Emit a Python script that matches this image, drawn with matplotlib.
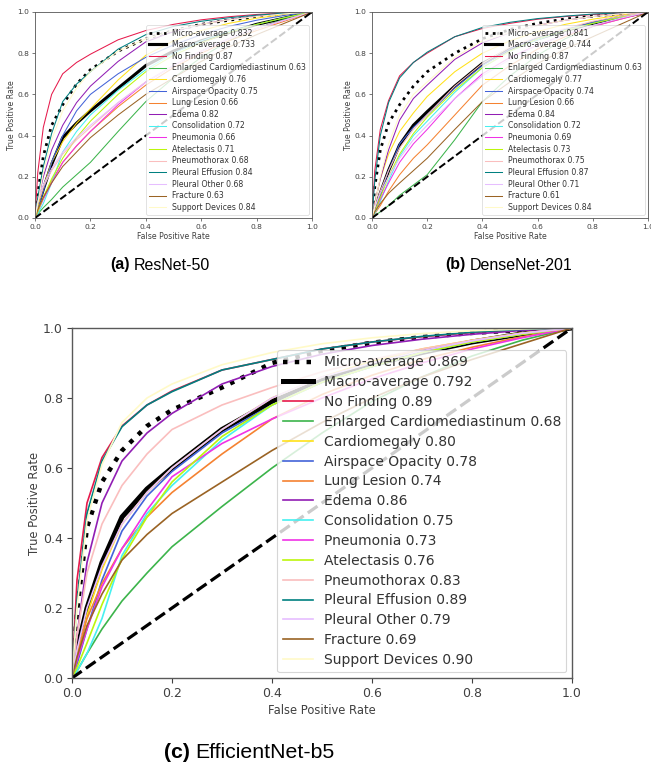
import matplotlib
matplotlib.use("Agg")
import matplotlib.pyplot as plt

# ---------------- data ----------------
fpr_grid = [0, 0.01, 0.03, 0.06, 0.1, 0.15, 0.2, 0.3, 0.4, 0.5, 0.6, 0.7, 0.8, 0.9, 1.0]

classes = ["No Finding", "Enlarged Cardiomediastinum", "Cardiomegaly", "Airspace Opacity",
           "Lung Lesion", "Edema", "Consolidation", "Pneumonia", "Atelectasis",
           "Pneumothorax", "Pleural Effusion", "Pleural Other", "Fracture", "Support Devices"]

class_colors = ["#e6194b", "#3cb44b", "#ffe119", "#4363d8", "#f58231", "#911eb4", "#46f0f0",
                "#f032e6", "#bcf60c", "#fabebe", "#008080", "#e6beff", "#9a6324", "#fffac8"]

# ResNet-50
resnet_micro_auc = "0.832"
resnet_macro_auc = "0.733"
resnet_auc = ["0.87", "0.63", "0.76", "0.75", "0.66", "0.82", "0.72", "0.66", "0.71", "0.68",
              "0.84", "0.68", "0.63", "0.84"]
resnet_micro = [0, 0.12, 0.30, 0.45, 0.55, 0.65, 0.72, 0.81, 0.87, 0.91, 0.94, 0.96, 0.977, 0.99, 1]
resnet_macro = [0, 0.05, 0.14, 0.26, 0.39, 0.46, 0.52, 0.63, 0.74, 0.81, 0.86, 0.90, 0.94, 0.97, 1]
resnet_tpr = [
    [0, 0.22, 0.44, 0.60, 0.70, 0.755, 0.795, 0.865, 0.91, 0.94, 0.962, 0.977, 0.988, 0.995, 1],
    [0, 0.02, 0.05, 0.09, 0.15, 0.21, 0.27, 0.42, 0.565, 0.68, 0.78, 0.86, 0.92, 0.965, 1],
    [0, 0.05, 0.15, 0.27, 0.37, 0.46, 0.53, 0.67, 0.79, 0.86, 0.91, 0.945, 0.97, 0.988, 1],
    [0, 0.04, 0.13, 0.27, 0.40, 0.52, 0.60, 0.70, 0.78, 0.84, 0.89, 0.93, 0.96, 0.983, 1],
    [0, 0.04, 0.10, 0.18, 0.27, 0.35, 0.42, 0.54, 0.645, 0.73, 0.80, 0.86, 0.91, 0.955, 1],
    [0, 0.08, 0.20, 0.33, 0.45, 0.56, 0.64, 0.76, 0.855, 0.905, 0.94, 0.963, 0.98, 0.992, 1],
    [0, 0.02, 0.07, 0.17, 0.32, 0.42, 0.50, 0.62, 0.72, 0.80, 0.86, 0.905, 0.94, 0.972, 1],
    [0, 0.03, 0.09, 0.17, 0.27, 0.35, 0.42, 0.55, 0.66, 0.74, 0.81, 0.87, 0.92, 0.96, 1],
    [0, 0.03, 0.10, 0.19, 0.29, 0.39, 0.47, 0.60, 0.71, 0.79, 0.85, 0.90, 0.94, 0.972, 1],
    [0, 0.07, 0.15, 0.23, 0.31, 0.38, 0.44, 0.56, 0.66, 0.74, 0.81, 0.87, 0.92, 0.96, 1],
    [0, 0.10, 0.25, 0.41, 0.565, 0.65, 0.71, 0.82, 0.89, 0.93, 0.955, 0.972, 0.985, 0.994, 1],
    [0, 0.08, 0.16, 0.24, 0.32, 0.39, 0.45, 0.56, 0.66, 0.74, 0.81, 0.87, 0.92, 0.96, 1],
    [0, 0.04, 0.10, 0.17, 0.25, 0.32, 0.39, 0.50, 0.60, 0.68, 0.76, 0.83, 0.89, 0.945, 1],
    [0, 0.07, 0.22, 0.38, 0.52, 0.63, 0.71, 0.81, 0.87, 0.91, 0.94, 0.962, 0.978, 0.991, 1],
]

# DenseNet-201
densenet_micro_auc = "0.841"
densenet_macro_auc = "0.744"
densenet_auc = ["0.87", "0.63", "0.77", "0.74", "0.66", "0.84", "0.72", "0.69", "0.73", "0.75",
                "0.87", "0.71", "0.61", "0.84"]
densenet_micro = [0, 0.15, 0.33, 0.46, 0.55, 0.64, 0.71, 0.80, 0.87, 0.915, 0.945, 0.966, 0.98, 0.992, 1]
densenet_macro = [0, 0.04, 0.12, 0.23, 0.355, 0.45, 0.516, 0.64, 0.75, 0.82, 0.87, 0.91, 0.945, 0.975, 1]
densenet_tpr = [
    [0, 0.23, 0.43, 0.57, 0.69, 0.755, 0.80, 0.88, 0.92, 0.945, 0.965, 0.978, 0.988, 0.995, 1],
    [0, 0.01, 0.03, 0.06, 0.11, 0.16, 0.21, 0.38, 0.565, 0.69, 0.79, 0.87, 0.93, 0.97, 1],
    [0, 0.07, 0.19, 0.31, 0.42, 0.51, 0.59, 0.71, 0.80, 0.86, 0.905, 0.94, 0.965, 0.985, 1],
    [0, 0.03, 0.11, 0.23, 0.36, 0.44, 0.50, 0.63, 0.74, 0.82, 0.875, 0.915, 0.95, 0.978, 1],
    [0, 0.02, 0.06, 0.13, 0.21, 0.29, 0.355, 0.50, 0.645, 0.74, 0.82, 0.88, 0.93, 0.965, 1],
    [0, 0.07, 0.19, 0.33, 0.475, 0.58, 0.645, 0.77, 0.85, 0.90, 0.935, 0.96, 0.978, 0.991, 1],
    [0, 0.02, 0.08, 0.18, 0.30, 0.40, 0.47, 0.61, 0.73, 0.81, 0.865, 0.91, 0.945, 0.975, 1],
    [0, 0.03, 0.09, 0.17, 0.27, 0.36, 0.43, 0.58, 0.70, 0.78, 0.84, 0.89, 0.93, 0.965, 1],
    [0, 0.03, 0.10, 0.20, 0.31, 0.41, 0.49, 0.62, 0.73, 0.81, 0.87, 0.91, 0.945, 0.975, 1],
    [0, 0.05, 0.13, 0.23, 0.34, 0.43, 0.50, 0.64, 0.75, 0.83, 0.88, 0.92, 0.955, 0.98, 1],
    [0, 0.18, 0.40, 0.56, 0.68, 0.755, 0.805, 0.88, 0.925, 0.95, 0.968, 0.98, 0.99, 0.996, 1],
    [0, 0.05, 0.12, 0.20, 0.29, 0.38, 0.45, 0.58, 0.69, 0.77, 0.84, 0.89, 0.935, 0.97, 1],
    [0, 0.03, 0.07, 0.12, 0.17, 0.23, 0.29, 0.43, 0.565, 0.66, 0.75, 0.82, 0.88, 0.94, 1],
    [0, 0.06, 0.20, 0.36, 0.50, 0.60, 0.66, 0.78, 0.86, 0.90, 0.935, 0.96, 0.978, 0.991, 1],
]

# EfficientNet-b5
effnet_micro_auc = "0.869"
effnet_macro_auc = "0.792"
effnet_auc = ["0.89", "0.68", "0.80", "0.78", "0.74", "0.86", "0.75", "0.73", "0.76", "0.83",
              "0.89", "0.79", "0.69", "0.90"]
effnet_micro = [0, 0.19, 0.43, 0.56, 0.65, 0.72, 0.766, 0.83, 0.90, 0.935, 0.958, 0.974, 0.986, 0.994, 1]
effnet_macro = [0, 0.08, 0.20, 0.33, 0.46, 0.54, 0.60, 0.71, 0.79, 0.85, 0.895, 0.93, 0.96, 0.983, 1]
effnet_tpr = [
    [0, 0.28, 0.50, 0.63, 0.72, 0.78, 0.82, 0.88, 0.91, 0.94, 0.96, 0.975, 0.987, 0.995, 1],
    [0, 0.02, 0.07, 0.14, 0.22, 0.30, 0.375, 0.49, 0.60, 0.70, 0.79, 0.86, 0.92, 0.965, 1],
    [0, 0.06, 0.18, 0.31, 0.44, 0.53, 0.60, 0.71, 0.80, 0.86, 0.905, 0.94, 0.965, 0.986, 1],
    [0, 0.04, 0.14, 0.28, 0.42, 0.52, 0.59, 0.70, 0.78, 0.845, 0.89, 0.93, 0.96, 0.983, 1],
    [0, 0.07, 0.17, 0.27, 0.37, 0.46, 0.53, 0.64, 0.74, 0.81, 0.865, 0.91, 0.945, 0.975, 1],
    [0, 0.12, 0.33, 0.50, 0.62, 0.70, 0.756, 0.84, 0.89, 0.925, 0.95, 0.968, 0.982, 0.993, 1],
    [0, 0.02, 0.07, 0.17, 0.35, 0.47, 0.55, 0.68, 0.78, 0.845, 0.89, 0.93, 0.96, 0.982, 1],
    [0, 0.05, 0.14, 0.26, 0.37, 0.48, 0.575, 0.67, 0.74, 0.80, 0.855, 0.90, 0.94, 0.972, 1],
    [0, 0.03, 0.10, 0.21, 0.34, 0.46, 0.56, 0.69, 0.78, 0.845, 0.89, 0.93, 0.96, 0.982, 1],
    [0, 0.12, 0.30, 0.44, 0.55, 0.64, 0.71, 0.78, 0.83, 0.875, 0.91, 0.94, 0.965, 0.985, 1],
    [0, 0.22, 0.47, 0.62, 0.718, 0.78, 0.818, 0.88, 0.91, 0.94, 0.96, 0.976, 0.988, 0.996, 1],
    [0, 0.08, 0.20, 0.32, 0.44, 0.53, 0.60, 0.71, 0.80, 0.86, 0.90, 0.935, 0.963, 0.985, 1],
    [0, 0.06, 0.15, 0.24, 0.337, 0.41, 0.47, 0.56, 0.65, 0.73, 0.80, 0.86, 0.91, 0.955, 1],
    [0, 0.20, 0.45, 0.61, 0.73, 0.80, 0.84, 0.895, 0.93, 0.955, 0.972, 0.984, 0.992, 0.997, 1],
]

tick_values = [0.0, 0.2, 0.4, 0.6, 0.8, 1.0]
captions = [("(a)", "ResNet-50"), ("(b)", "DenseNet-201"), ("(c)", "EfficientNet-b5")]

# ---------------- drawing ----------------
W, H = 651, 775
fig = plt.figure(figsize=(W / 100, H / 100), dpi=100)


def px_axes(left, top, right, bottom):
    return fig.add_axes([left / W, 1 - bottom / H, (right - left) / W, (bottom - top) / H])


def draw_panel(ax, micro, micro_auc, macro, macro_auc, tprs, aucs,
               s, tickfs, labfs, legfs, ylpad, lspace):
    ax.plot(fpr_grid, micro, color="black", linestyle=":", lw=3.2 * s,
            label="Micro-average " + micro_auc)
    ax.plot(fpr_grid, macro, color="black", linestyle="-", lw=3.6 * s,
            label="Macro-average " + macro_auc)
    for name, col, tpr, auc in zip(classes, class_colors, tprs, aucs):
        ax.plot(fpr_grid, tpr, color=col, lw=1.2 * s, label=f"{name} {auc}")
    ax.plot([0, 1], [0, 1], color="black", linestyle="--", lw=2.3 * s)
    ax.set_xlim(0, 1)
    ax.set_ylim(0, 1)
    ax.set_xticks(tick_values)
    ax.set_yticks(tick_values)
    ax.tick_params(labelsize=tickfs, length=3.5 * s, width=0.8 * s, colors="0.25",
                   pad=3.0 * s)
    for sp in ax.spines.values():
        sp.set_color("0.35")
        sp.set_linewidth(1.0 * s)
    ax.set_xlabel("False Positive Rate", fontsize=labfs, color="0.25", labelpad=2.5 * s)
    ax.set_ylabel("True Positive Rate", fontsize=labfs, color="0.25", labelpad=ylpad)
    leg = ax.legend(loc="lower right", fontsize=legfs, handlelength=2.2,
                    handletextpad=0.75, labelspacing=lspace,
                    borderaxespad=0.4, framealpha=0.8)
    leg.get_frame().set_linewidth(0.8 * s)
    for t in leg.get_texts():
        t.set_color("0.2")


ax_a = px_axes(35, 12, 312, 218)
draw_panel(ax_a, resnet_micro, resnet_micro_auc, resnet_macro, resnet_macro_auc,
           resnet_tpr, resnet_auc, 0.62, 5.4, 5.6, 5.55, 1.0, 0.34)
ax_b = px_axes(372, 12, 648, 218)
draw_panel(ax_b, densenet_micro, densenet_micro_auc, densenet_macro, densenet_macro_auc,
           densenet_tpr, densenet_auc, 0.62, 5.4, 5.6, 5.55, 1.0, 0.34)
ax_c = px_axes(72, 328, 572, 678)
draw_panel(ax_c, effnet_micro, effnet_micro_auc, effnet_macro, effnet_macro_auc,
           effnet_tpr, effnet_auc, 1.0, 9.0, 8.3, 10.0, 1.5, 0.42)

cap_font = ["Liberation Sans", "DejaVu Sans"]


def caption(x_left, y_center, label, rest, size):
    t1 = fig.text(x_left / W, 1 - y_center / H, label, fontsize=size, fontweight="bold",
                  family=cap_font, ha="left", va="center")
    fig.canvas.draw()
    bb = t1.get_window_extent()
    fig.text((bb.x1 + size * 0.35) / W, 1 - y_center / H, rest, fontsize=size,
             family=cap_font, ha="left", va="center")


caption(110, 265, captions[0][0], captions[0][1], 11.5)
caption(445, 265, captions[1][0], captions[1][1], 11.5)
caption(164, 752, captions[2][0], captions[2][1], 15.3)

fig.savefig("out.png", dpi=100)
